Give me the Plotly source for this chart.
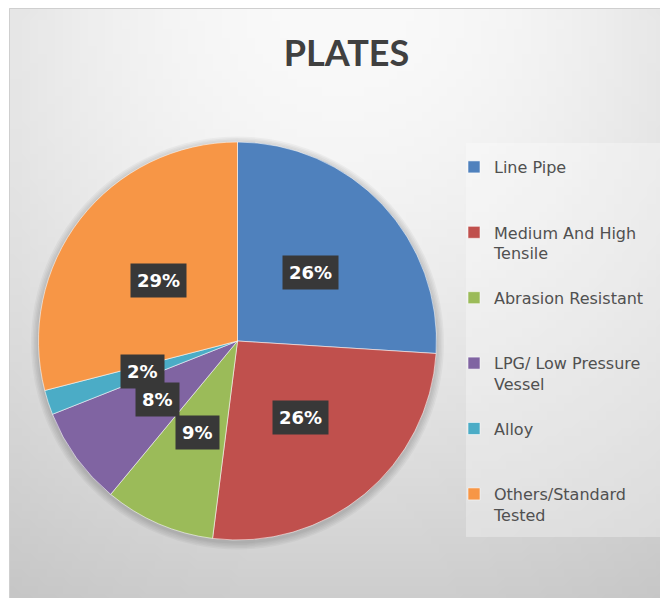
import base64
import math
import struct
import zlib

import plotly.graph_objects as go

# ---------------- data ----------------
categories = [
    "Line Pipe",
    "Medium And High<br>Tensile",
    "Abrasion Resistant",
    "LPG/ Low Pressure<br>Vessel",
    "Alloy",
    "Others/Standard<br>Tested",
]
shares = [26, 26, 9, 8, 2, 29]
colors = ["#4F81BD", "#C0504D", "#9BBB59", "#8064A2", "#4BACC6", "#F79646"]
title_text = "PLATES"

W, H = 668, 598
OFF = 8  # page body margin offset


def fx(p):
    return (p - OFF) / W


def fy(p):
    return 1 - (p - OFF) / H


# ---------------- background gradient image ----------------
def gradient_png(w, h):
    raw = b""
    for j in range(h):
        y = j / (h - 1)
        row = b"\x00"
        for i in range(w):
            x = i / (w - 1)
            dx = abs(x - 0.5) * 2
            v = 250 - 44 * y ** 1.6 - 20 * dx ** 2 * (1 - 0.6 * y)
            v = int(max(0, min(255, v)))
            row += bytes([v, v, v])
        raw += row

    def chunk(tag, data):
        c = struct.pack(">I", len(data)) + tag + data
        return c + struct.pack(">I", zlib.crc32(tag + data) & 0xFFFFFFFF)

    png = b"\x89PNG\r\n\x1a\n"
    png += chunk(b"IHDR", struct.pack(">IIBBBBB", w, h, 8, 2, 0, 0, 0))
    png += chunk(b"IDAT", zlib.compress(raw, 9))
    png += chunk(b"IEND", b"")
    return "data:image/png;base64," + base64.b64encode(png).decode()


bg_src = gradient_png(80, 72)

# pad legend entries to equal line count
max_lines = 3
legend_labels = []
for c in categories:
    n = c.count("<br>") + 1
    legend_labels.append(c + "<br>\u00a0" * (max_lines - n))

# pie geometry (screen pixels)
cx, cy, R = 237.5, 341.0, 199.0

fig = go.Figure(
    go.Pie(
        labels=legend_labels,
        values=shares,
        sort=False,
        direction="clockwise",
        rotation=0,
        marker=dict(colors=colors, line=dict(color="rgba(255,255,255,0.55)", width=1)),
        textinfo="none",
        hoverinfo="label+percent",
        domain=dict(x=[fx(cx - R), fx(cx + R)], y=[fy(cy + R), fy(cy - R)]),
    )
)

# percentage labels positioned from the data
total = sum(shares)
annotations = []
cum = 0
for v in shares:
    theta = 2 * math.pi * (cum + v / 2) / total
    cum += v
    px = cx + 0.5 * R * math.sin(theta)
    py = cy - 0.5 * R * math.cos(theta)
    annotations.append(
        dict(
            x=fx(px),
            y=fy(py),
            xref="paper",
            yref="paper",
            text=f"{round(100 * v / total)}%",
            showarrow=False,
            font=dict(family="DejaVu Sans", size=18, color="white", weight="bold"),
            bgcolor="#383838",
            borderpad=6,
            xanchor="center",
            yanchor="middle",
        )
    )

# soft shadow rings under the pie
shadow_shapes = []
for k in range(1, 6):
    r = R + 1.5 * k
    shadow_shapes.append(
        dict(
            type="circle",
            xref="paper",
            yref="paper",
            x0=fx(cx - r),
            x1=fx(cx + r),
            y0=fy(cy + 2 + r),
            y1=fy(cy + 2 - r),
            line=dict(width=0),
            fillcolor="rgba(0,0,0,0.035)",
            layer="below",
        )
    )

fig.update_layout(
    width=W,
    height=H,
    autosize=False,
    margin=dict(l=0, r=0, t=0, b=0),
    paper_bgcolor="white",
    title=dict(
        text=title_text,
        x=fx(346.5),
        y=fy(53),
        xanchor="center",
        yanchor="middle",
        xref="paper",
        yref="paper",
        font=dict(family="Lato", size=36, color="#404040", weight="bold"),
    ),
    legend=dict(
        x=fx(454),
        xanchor="left",
        y=fy(150),
        yanchor="top",
        valign="top",
        bgcolor="rgba(0,0,0,0)",
        font=dict(family="DejaVu Sans", size=16, color="#505050"),
        traceorder="normal",
    ),
    images=[
        dict(
            source=bg_src,
            xref="paper",
            yref="paper",
            x=fx(9),
            y=1.0,
            sizex=1 - fx(9),
            sizey=1.0,
            xanchor="left",
            yanchor="top",
            sizing="stretch",
            layer="below",
        )
    ],
    shapes=[
        dict(
            type="rect",
            xref="paper",
            yref="paper",
            x0=fx(9.5),
            x1=1.2,
            y0=-0.2,
            y1=1 - 0.5 / H,
            line=dict(color="#cfcfcf", width=1),
            fillcolor="rgba(0,0,0,0)",
            layer="below",
        ),
        dict(
            type="rect",
            xref="paper",
            yref="paper",
            x0=fx(466),
            x1=fx(665),
            y0=fy(537),
            y1=fy(143),
            line=dict(width=0),
            fillcolor="rgba(255,255,255,0.3)",
            layer="below",
        ),
    ]
    + shadow_shapes,
    annotations=annotations,
    showlegend=True,
)

fig.write_html("out.html")
